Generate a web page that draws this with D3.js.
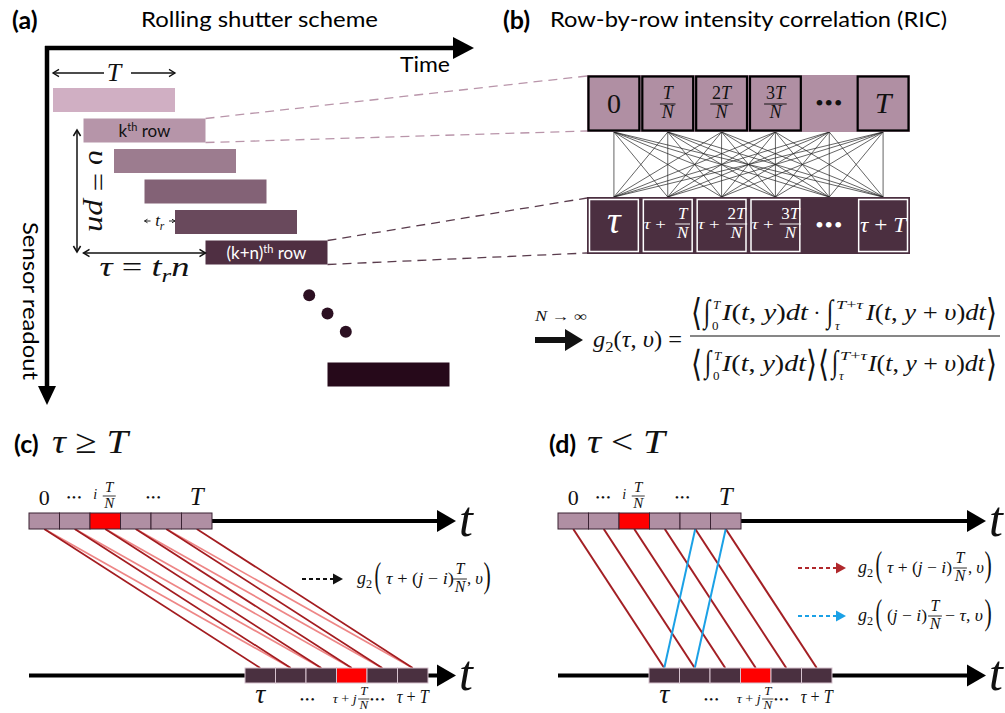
<!DOCTYPE html>
<html>
<head>
<meta charset="utf-8">
<script src="https://cdn.jsdelivr.net/npm/d3@7"></script>
<style>
  html, body { margin: 0; padding: 0; background: #fff; }
  svg { display: block; }
  text { white-space: pre; }
</style>
</head>
<body>
<script>
// ---------- data ----------
// rows of the rolling-shutter exposure ladder (row index along the sensor)
const shutterRows = [0, 1, 2, 3, 4, 5, 9];
const labelledRows = [{ row: 1, name: 'k' }, { row: 5, name: '(k+n)' }];
const ellipsisRows = [[8.4, 6.4], [9.0, 7.0], [9.6, 7.6]];   // [column, row] of the "more rows" dots
// time bins of one exposure window T split into N slices
const bins = [0, 1, 2, 3, 4, 5];
const binLabels = ['0', 'T/N', '2T/N', '3T/N', '…', 'T'];
const delayedLabels = ['τ', 'τ+T/N', 'τ+2T/N', 'τ+3T/N', '…', 'τ+T'];
const ellipsisBin = 4;
// bin-to-bin correlation pairs [bin in row k, bin in row k+n]
const pairsAll = d3.cross(bins, bins);
const pairsSame = bins.map(i => [i, i]);
const pairsNext = [[0, 1], [1, 2], [2, 3], [3, 4], [4, 5]];
const pairsWrap = [[4, 0], [5, 1]];
const binI = 2, binJ = 3;

// ---------- helpers ----------
const INK = '#111';
const SANS = "Lato, 'Open Sans', 'Liberation Sans', sans-serif";
const SERIF = "'Liberation Serif', 'DejaVu Serif', serif";
const svg = d3.select('body').append('svg').attr('width', 1005).attr('height', 713);

// math-style text: letters italic, digits/operators upright, _{..} and ^{..} scripts
function tex(g, x, y, str, size, o = {}) {
  const t = g.append('text').attr('x', x).attr('y', y)
    .attr('font-family', SERIF).attr('font-size', size)
    .attr('fill', o.fill || INK).attr('text-anchor', o.anchor || 'start');
  const chars = [];
  for (let i = 0; i < str.length;) {
    const c = str[i];
    if ((c === '_' || c === '^') && str[i + 1] === '{') {
      const j = str.indexOf('}', i);
      for (const ch of str.slice(i + 2, j)) chars.push({ ch, lvl: c });
      i = j + 1;
    } else { chars.push({ ch: c, lvl: '' }); i++; }
  }
  const runs = [];
  chars.forEach(({ ch, lvl }) => {
    const it = !o.upright && /[A-Za-zτυ]/.test(ch);
    const last = runs[runs.length - 1];
    if (last && last.lvl === lvl && last.it === it) last.s += ch;
    else runs.push({ s: ch, lvl, it });
  });
  const shift = { '': 0, '_': 0.22 * size, '^': -0.4 * size };
  let cur = 0;
  runs.forEach(r => {
    const sp = t.append('tspan').text(r.s).attr('font-style', r.it ? 'italic' : 'normal');
    if (r.lvl) sp.attr('font-size', size * 0.68);
    const dy = shift[r.lvl] - cur;
    if (dy) sp.attr('dy', dy);
    cur = shift[r.lvl];
  });
  if (o.len) t.attr('textLength', o.len).attr('lengthAdjust', 'spacingAndGlyphs');
  return t;
}

function frac(g, cx, yLine, num, den, size, fill) {
  const n = tex(g, cx, yLine - 0.3 * size, num, size, { anchor: 'middle', fill });
  const d = tex(g, cx, yLine + 0.8 * size, den, size, { anchor: 'middle', fill });
  const w = Math.max(n.node().getComputedTextLength(), d.node().getComputedTextLength()) + 0.2 * size;
  g.append('line').attr('x1', cx - w / 2).attr('x2', cx + w / 2).attr('y1', yLine).attr('y2', yLine)
    .attr('stroke', fill || INK).attr('stroke-width', Math.max(0.8, 0.055 * size));
}

// a glyph stretched so its ink fills the given box (big delimiters, integrals)
const ctx = document.createElement('canvas').getContext('2d');
function fitGlyph(g, ch, x0, x1, y0, y1, o = {}) {
  const fam = o.family || SERIF, S = 40;
  ctx.font = `${o.italic ? 'italic ' : ''}${o.weight || 400} ${S}px ${fam}`;
  const m = ctx.measureText(ch);
  const asc = m.actualBoundingBoxAscent, desc = m.actualBoundingBoxDescent;
  const lft = m.actualBoundingBoxLeft, rgt = m.actualBoundingBoxRight;
  const sx = (x1 - x0) / (lft + rgt), sy = (y1 - y0) / (asc + desc);
  g.append('text')
    .attr('transform', `translate(${x0 + lft * sx},${y0 + asc * sy}) scale(${sx},${sy})`)
    .attr('font-family', fam).attr('font-size', S).attr('font-weight', o.weight || 400)
    .attr('font-style', o.italic ? 'italic' : 'normal')
    .attr('fill', o.fill || INK).text(ch);
}

function dots(g, cx, cy, size, fill, spacing) {
  g.append('text').attr('x', cx).attr('y', cy).attr('text-anchor', 'middle')
    .attr('dominant-baseline', 'central').attr('font-family', SERIF)
    .attr('font-size', size).attr('letter-spacing', spacing || 0)
    .attr('fill', fill || INK).text('•••');
}

function chevron(g, x, y, dir, s, w) {
  const d = {
    left: `M${x + s},${y - s * 0.6}L${x},${y}L${x + s},${y + s * 0.6}`,
    right: `M${x - s},${y - s * 0.6}L${x},${y}L${x - s},${y + s * 0.6}`,
    up: `M${x - s * 0.6},${y + s}L${x},${y}L${x + s * 0.6},${y + s}`,
    down: `M${x - s * 0.6},${y - s}L${x},${y}L${x + s * 0.6},${y - s}`
  }[dir];
  g.append('path').attr('d', d).attr('fill', 'none').attr('stroke', INK).attr('stroke-width', w || 1.3);
}

// ---------- (a) rolling shutter scheme ----------
const gA = svg.append('g');
const rowX = d3.scaleLinear().domain([0, 9]).range([53, 327.5]);
const rowY = d3.scaleLinear().domain([0, 9]).range([88, 362.5]);
const barW = rowX(4) - rowX(0), barH = 24;
const rowShade = d3.scaleLinear().domain([0, 5, 9]).range(['#d0afc3', '#4f2f42', '#26091a']);

gA.append('text').attr('x', 12).attr('y', 29).attr('font-family', SANS).attr('font-weight', 700)
  .attr('font-size', 25).text('(a)');
gA.append('text').attr('x', 141).attr('y', 27).attr('font-family', SANS).attr('font-size', 22)
  .attr('textLength', 237).attr('lengthAdjust', 'spacingAndGlyphs').text('Rolling shutter scheme');

// time and readout axes
gA.append('line').attr('x1', 45).attr('y1', 48).attr('x2', 456).attr('y2', 48)
  .attr('stroke', '#000').attr('stroke-width', 4.5);
gA.append('path').attr('d', 'M453,37L474,48L453,59Z').attr('fill', '#000');
gA.append('line').attr('x1', 47).attr('y1', 46).attr('x2', 47).attr('y2', 388)
  .attr('stroke', '#000').attr('stroke-width', 4.5);
gA.append('path').attr('d', 'M38,386L47,405L56,386Z').attr('fill', '#000');
gA.append('text').attr('x', 400).attr('y', 72).attr('font-family', SANS).attr('font-size', 21)
  .attr('textLength', 50).attr('lengthAdjust', 'spacingAndGlyphs').text('Time');
gA.append('text').attr('transform', 'translate(23,222) rotate(90)').attr('font-family', SANS)
  .attr('font-size', 21).attr('textLength', 158).attr('lengthAdjust', 'spacingAndGlyphs').text('Sensor readout');

// exposure window T
const tY = 73, tL = rowX(0), tR = rowX(0) + barW;
gA.append('line').attr('x1', tL).attr('x2', 104).attr('y1', tY).attr('y2', tY).attr('stroke', INK).attr('stroke-width', 1.3);
gA.append('line').attr('x1', 131).attr('x2', tR).attr('y1', tY).attr('y2', tY).attr('stroke', INK).attr('stroke-width', 1.3);
chevron(gA, tL, tY, 'left', 6);
chevron(gA, tR, tY, 'right', 6);
tex(gA, (tL + tR) / 2, 81, 'T', 26, { anchor: 'middle' });

// row bars
gA.selectAll('rect.row').data(shutterRows).join('rect').attr('class', 'row')
  .attr('x', d => rowX(d)).attr('y', d => rowY(d)).attr('width', barW).attr('height', barH)
  .attr('fill', d => rowShade(d));
labelledRows.forEach(r => {
  const t = gA.append('text').attr('x', rowX(r.row) + barW / 2).attr('y', rowY(r.row) + 18)
    .attr('text-anchor', 'middle').attr('font-family', SANS).attr('font-size', 17)
    .attr('fill', r.row > 3 ? '#fff' : INK);
  t.append('tspan').text(r.name);
  t.append('tspan').text('th').attr('font-size', 11).attr('dy', -6);
  t.append('tspan').text(' row').attr('dy', 6);
});
gA.selectAll('circle.more').data(ellipsisRows).join('circle').attr('class', 'more')
  .attr('cx', d => rowX(d[0])).attr('cy', d => rowY(d[1]) + barH / 2).attr('r', 6).attr('fill', '#2c1022');

// row offset v = pn
const vX = 77, vTop = rowY(1) + 11.5, vBot = rowY(5) + 11.5;
gA.append('line').attr('x1', vX).attr('x2', vX).attr('y1', vTop).attr('y2', vBot).attr('stroke', INK).attr('stroke-width', 1.5);
chevron(gA, vX, vTop, 'up', 6, 1.5);
chevron(gA, vX, vBot, 'down', 6, 1.5);
tex(gA, 0, 0, 'υ = pn', 27, { anchor: 'middle', len: 82 }).attr('transform', `translate(89,${(vTop + vBot) / 2}) rotate(90)`);

// delay tau = t_r n
const dY = rowY(5) + 12.5;
gA.append('line').attr('x1', rowX(1)).attr('x2', rowX(5)).attr('y1', dY).attr('y2', dY).attr('stroke', INK).attr('stroke-width', 1.5);
chevron(gA, rowX(1), dY, 'left', 6, 1.5);
chevron(gA, rowX(5), dY, 'right', 6, 1.5);
tex(gA, (rowX(1) + rowX(5)) / 2, 276, 'τ = t_{r}n', 28, { anchor: 'middle', len: 90 });

// row-to-row step t_r
const rY = rowY(4) + 11;
tex(gA, (rowX(3) + rowX(4)) / 2, rY + 5, 't_{r}', 17, { anchor: 'middle' });
gA.append('line').attr('x1', rowX(3)).attr('x2', rowX(3) + 6).attr('y1', rY).attr('y2', rY).attr('stroke', INK).attr('stroke-width', 0.9);
gA.append('line').attr('x1', rowX(4) - 6).attr('x2', rowX(4)).attr('y1', rY).attr('y2', rY).attr('stroke', INK).attr('stroke-width', 0.9);
chevron(gA, rowX(3), rY, 'left', 3, 0.9);
chevron(gA, rowX(4), rY, 'right', 3, 0.9);

// ---------- (b) row-by-row intensity correlation ----------
const gB = svg.append('g');
const binX = d3.scaleBand().domain(bins).range([587, 910]);
const bw = binX.bandwidth();
const bc = i => binX(i) + bw / 2;
const topY0 = 75, topY1 = 132, botY0 = 197, botY1 = 254;

// dashed guides from row k and row k+n into the binned strips
const guides = [
  { row: 1, y: [topY0 + 1, topY1 - 1], color: '#b995aa' },
  { row: 5, y: [botY0 + 1, botY1 - 1], color: '#5a3c4d' }
];
guides.forEach(gd => {
  [0, 1].forEach(k => {
    gB.append('line').attr('x1', rowX(gd.row) + barW).attr('y1', rowY(gd.row) + k * barH)
      .attr('x2', binX(0)).attr('y2', gd.y[k])
      .attr('stroke', gd.color).attr('stroke-width', 1.3).attr('stroke-dasharray', '9,6');
  });
});

gB.append('text').attr('x', 503).attr('y', 29).attr('font-family', SANS).attr('font-weight', 700)
  .attr('font-size', 25).text('(b)');
gB.append('text').attr('x', 550).attr('y', 27).attr('font-family', SANS).attr('font-size', 22)
  .attr('textLength', 397).attr('lengthAdjust', 'spacingAndGlyphs').text('Row-by-row intensity correlation (RIC)');

// all-to-all bin links
gB.selectAll('line.link').data(pairsAll).join('line').attr('class', 'link')
  .attr('x1', d => bc(d[0])).attr('y1', topY1).attr('x2', d => bc(d[1])).attr('y2', botY0)
  .attr('stroke', '#222').attr('stroke-width', 0.7);

gB.append('rect').attr('x', binX(0)).attr('y', topY0).attr('width', bw * 6).attr('height', topY1 - topY0).attr('fill', '#b08fa3');
gB.append('rect').attr('x', binX(0)).attr('y', botY0).attr('width', bw * 6).attr('height', botY1 - botY0).attr('fill', '#4b2f40');
gB.selectAll('rect.tcell').data(bins.filter(i => i !== ellipsisBin)).join('rect').attr('class', 'tcell')
  .attr('x', d => binX(d) + 1.5).attr('y', topY0 + 1.5).attr('width', bw - 3).attr('height', topY1 - topY0 - 3)
  .attr('fill', 'none').attr('stroke', '#000').attr('stroke-width', 2.2);
gB.selectAll('rect.bcell').data(bins.filter(i => i !== ellipsisBin)).join('rect').attr('class', 'bcell')
  .attr('x', d => binX(d) + 2.5).attr('y', botY0 + 2.5).attr('width', bw - 5).attr('height', botY1 - botY0 - 5)
  .attr('fill', 'none').attr('stroke', '#fff').attr('stroke-width', 1.5);

binLabels.forEach((lab, i) => {
  if (lab === '…') dots(gB, bc(i), 103, 24, INK, 1);
  else if (lab.includes('/')) { const [n, d] = lab.split('/'); frac(gB, bc(i), 104, n, d, 18); }
  else tex(gB, bc(i), 113, lab, lab === '0' ? 28 : 30, { anchor: 'middle' });
});
delayedLabels.forEach((lab, i) => {
  if (lab === '…') dots(gB, bc(i), 225, 24, '#fff', 1);
  else if (lab.includes('/')) {
    const [n, d] = lab.slice(2).split('/');
    tex(gB, binX(i) + 3, 229, 'τ +', 15, { fill: '#fff', len: 22 });
    frac(gB, binX(i) + bw - 12, 224, n, d, 17, '#fff');
  } else if (lab === 'τ') tex(gB, bc(i), 233, 'τ', 38, { anchor: 'middle', fill: '#fff' });
  else tex(gB, bc(i), 232, lab.replace('+', ' + '), 22, { anchor: 'middle', fill: '#fff', len: 46 });
});

// limit N -> infinity: g2 expression
const gF = svg.append('g');
gF.append('line').attr('x1', 535).attr('x2', 567).attr('y1', 340).attr('y2', 340).attr('stroke', '#111').attr('stroke-width', 6);
gF.append('path').attr('d', 'M565,329L583,340L565,351Z').attr('fill', '#111');
tex(gF, 561, 321, 'N → ∞', 14, { anchor: 'middle', len: 52 });
tex(gF, 593, 347, 'g_{2}(τ, υ) =', 23, { len: 89 });
gF.append('line').attr('x1', 690).attr('x2', 1000).attr('y1', 336).attr('y2', 336).attr('stroke', INK).attr('stroke-width', 1.2);
const ANG = { family: "'DejaVu Sans', sans-serif", weight: 200 };
// numerator
fitGlyph(gF, '⟨', 693, 700, 297, 331, ANG);
fitGlyph(gF, '∫', 702, 712, 299, 331, { italic: true });
tex(gF, 713, 309, 'T', 13);
tex(gF, 712, 330, '0', 13);
tex(gF, 722, 320, 'I(t, y)dt', 24, { len: 86 });
tex(gF, 817, 320, '·', 22, { anchor: 'middle' });
fitGlyph(gF, '∫', 825, 835, 299, 331, { italic: true });
tex(gF, 836, 309, 'T+τ', 13, { len: 27 });
tex(gF, 835, 330, 'τ', 13);
tex(gF, 866, 320, 'I(t, y + υ)dt', 24, { len: 120 });
fitGlyph(gF, '⟩', 988, 995, 297, 331, ANG);
// denominator
fitGlyph(gF, '⟨', 693, 700, 348, 381, ANG);
fitGlyph(gF, '∫', 703, 713, 350, 381, { italic: true });
tex(gF, 714, 360, 'T', 13);
tex(gF, 713, 380, '0', 13);
tex(gF, 722, 371, 'I(t, y)dt', 24, { len: 84 });
fitGlyph(gF, '⟩', 808, 815, 348, 381, ANG);
fitGlyph(gF, '⟨', 820, 827, 348, 381, ANG);
fitGlyph(gF, '∫', 830, 840, 350, 381, { italic: true });
tex(gF, 840, 360, 'T+τ', 13, { len: 27 });
tex(gF, 839, 380, 'τ', 13);
tex(gF, 868, 371, 'I(t, y + υ)dt', 24, { len: 117 });
fitGlyph(gF, '⟩', 988, 995, 348, 381, ANG);

// ---------- (c) and (d) bin pairing timelines ----------
function g2Label(g, x, yLine, inner, fracCx, tail, tailX, lens) {
  tex(g, x, yLine + 5, 'g_{2}', 18);
  fitGlyph(g, '(', x + 18, x + 24, yLine - 17, yLine + 16);
  tex(g, x + 29, yLine + 5, inner, 17, { len: lens[0] });
  frac(g, fracCx, yLine, 'T', 'N', 16);
  tex(g, tailX, yLine + 5, tail, 17, { len: lens[1] });
  fitGlyph(g, ')', x + 127, x + 133, yLine - 17, yLine + 16);
}

function legendArrow(g, x0, x1, y, color) {
  g.append('line').attr('x1', x0).attr('x2', x1 - 9).attr('y1', y).attr('y2', y)
    .attr('stroke', color).attr('stroke-width', 2).attr('stroke-dasharray', '4,3');
  g.append('path').attr('d', `M${x1 - 10},${y - 5.5}L${x1},${y}L${x1 - 10},${y + 5.5}Z`).attr('fill', color);
}

function timelinePanel(p) {
  const g = svg.append('g');
  const top = d3.scaleBand().domain(bins).range(p.top);
  const bot = d3.scaleBand().domain(bins).range(p.bot);
  const w = top.bandwidth();
  const yT = 513, hT = 16, yB = 668, hB = 15;
  const axT = yT + hT / 2, axB = yB + hB / 2;
  const cx = (s, i) => s(i) + w / 2;

  g.append('text').attr('x', p.titleX).attr('y', 453).attr('font-family', SANS).attr('font-weight', 700)
    .attr('font-size', 25).text(p.tag);
  tex(g, p.titleX + 38, 453, p.cond, 34, { len: p.condLen });

  p.links.forEach(L => {
    g.append('g').selectAll('line').data(L.pairs).join('line')
      .attr('x1', d => cx(top, d[0])).attr('y1', yT + hT)
      .attr('x2', d => cx(bot, d[1])).attr('y2', yB)
      .attr('stroke', L.color).attr('stroke-width', L.width);
  });

  // time axes
  const axis = (x1, x2, y) => g.append('line').attr('x1', x1).attr('x2', x2).attr('y1', y).attr('y2', y)
    .attr('stroke', '#000').attr('stroke-width', 4);
  axis(p.top[1], p.arrowX + 2, axT);
  axis(p.top[0], p.bot[0], axB);
  axis(p.bot[1], p.arrowX + 2, axB);
  [axT, axB].forEach(y => {
    g.append('path').attr('d', `M${p.arrowX},${y - 11}L${p.arrowX + 19},${y}L${p.arrowX},${y + 11}Z`).attr('fill', '#000');
  });
  tex(g, p.arrowX + 22, 536, 't', 50);
  tex(g, p.arrowX + 22, 690, 't', 50);

  g.selectAll('rect.top').data(bins).join('rect').attr('class', 'top')
    .attr('x', d => top(d)).attr('y', yT).attr('width', w).attr('height', hT)
    .attr('fill', d => d === binI ? '#ff0000' : '#b08fa3').attr('stroke', '#3a2232').attr('stroke-width', 1);
  g.selectAll('rect.bot').data(bins).join('rect').attr('class', 'bot')
    .attr('x', d => bot(d)).attr('y', yB).attr('width', w).attr('height', hB)
    .attr('fill', d => d === binJ ? '#ff0000' : '#4a3040').attr('stroke', '#d6c2ce').attr('stroke-width', 1);

  // bin labels
  tex(g, cx(top, 0), 505, '0', 22, { anchor: 'middle' });
  dots(g, cx(top, 1), 497, 11, INK, 1.5);
  tex(g, cx(top, binI) - 10, 499, 'i', 14, { anchor: 'middle' });
  frac(g, cx(top, binI) + 4, 496, 'T', 'N', 15);
  dots(g, top(4) + 3, 497, 11, INK, 1.5);
  tex(g, cx(top, 5), 505, 'T', 25, { anchor: 'middle' });

  tex(g, cx(bot, 0), 703, 'τ', 28, { anchor: 'middle' });
  dots(g, bot(2) + 2, 699, 11, INK, 1.5);
  tex(g, cx(bot, binJ) - 19, 703, 'τ + j', 13, { len: 24 });
  frac(g, cx(bot, binJ) + 12, 699, 'T', 'N', 13);
  dots(g, bot(4) + 11, 699, 11, INK, 1.5);
  tex(g, cx(bot, 5), 703, 'τ + T', 18, { anchor: 'middle', len: 32 });
  return g;
}

const gC = timelinePanel({
  tag: '(c)', titleX: 14, cond: 'τ ≥ T', condLen: 76,
  top: [29, 212], bot: [245, 428], arrowX: 437,
  links: [
    { pairs: pairsNext, color: '#ee8686', width: 1.7 },
    { pairs: pairsSame, color: '#a31c20', width: 1.7 }
  ]
});
legendArrow(gC, 302, 343, 579, '#111');
g2Label(gC, 357, 579, 'τ + (j − i)', 460, ', υ', 467, [68, 16]);

const gD = timelinePanel({
  tag: '(d)', titleX: 549, cond: 'τ < T', condLen: 78,
  top: [558, 741], bot: [649, 832], arrowX: 967,
  links: [
    { pairs: pairsSame, color: '#a31f24', width: 2 },
    { pairs: pairsWrap, color: '#1ba1e6', width: 2 }
  ]
});
legendArrow(gD, 798, 846, 568, '#b0282c');
g2Label(gD, 858, 568, 'τ + (j − i)', 960, ', υ', 968, [65, 16]);
legendArrow(gD, 798, 846, 616, '#1ba1e6');
g2Label(gD, 858, 616, '(j − i)', 935, '− τ, υ', 945, [40, 38]);
</script>
</body>
</html>
